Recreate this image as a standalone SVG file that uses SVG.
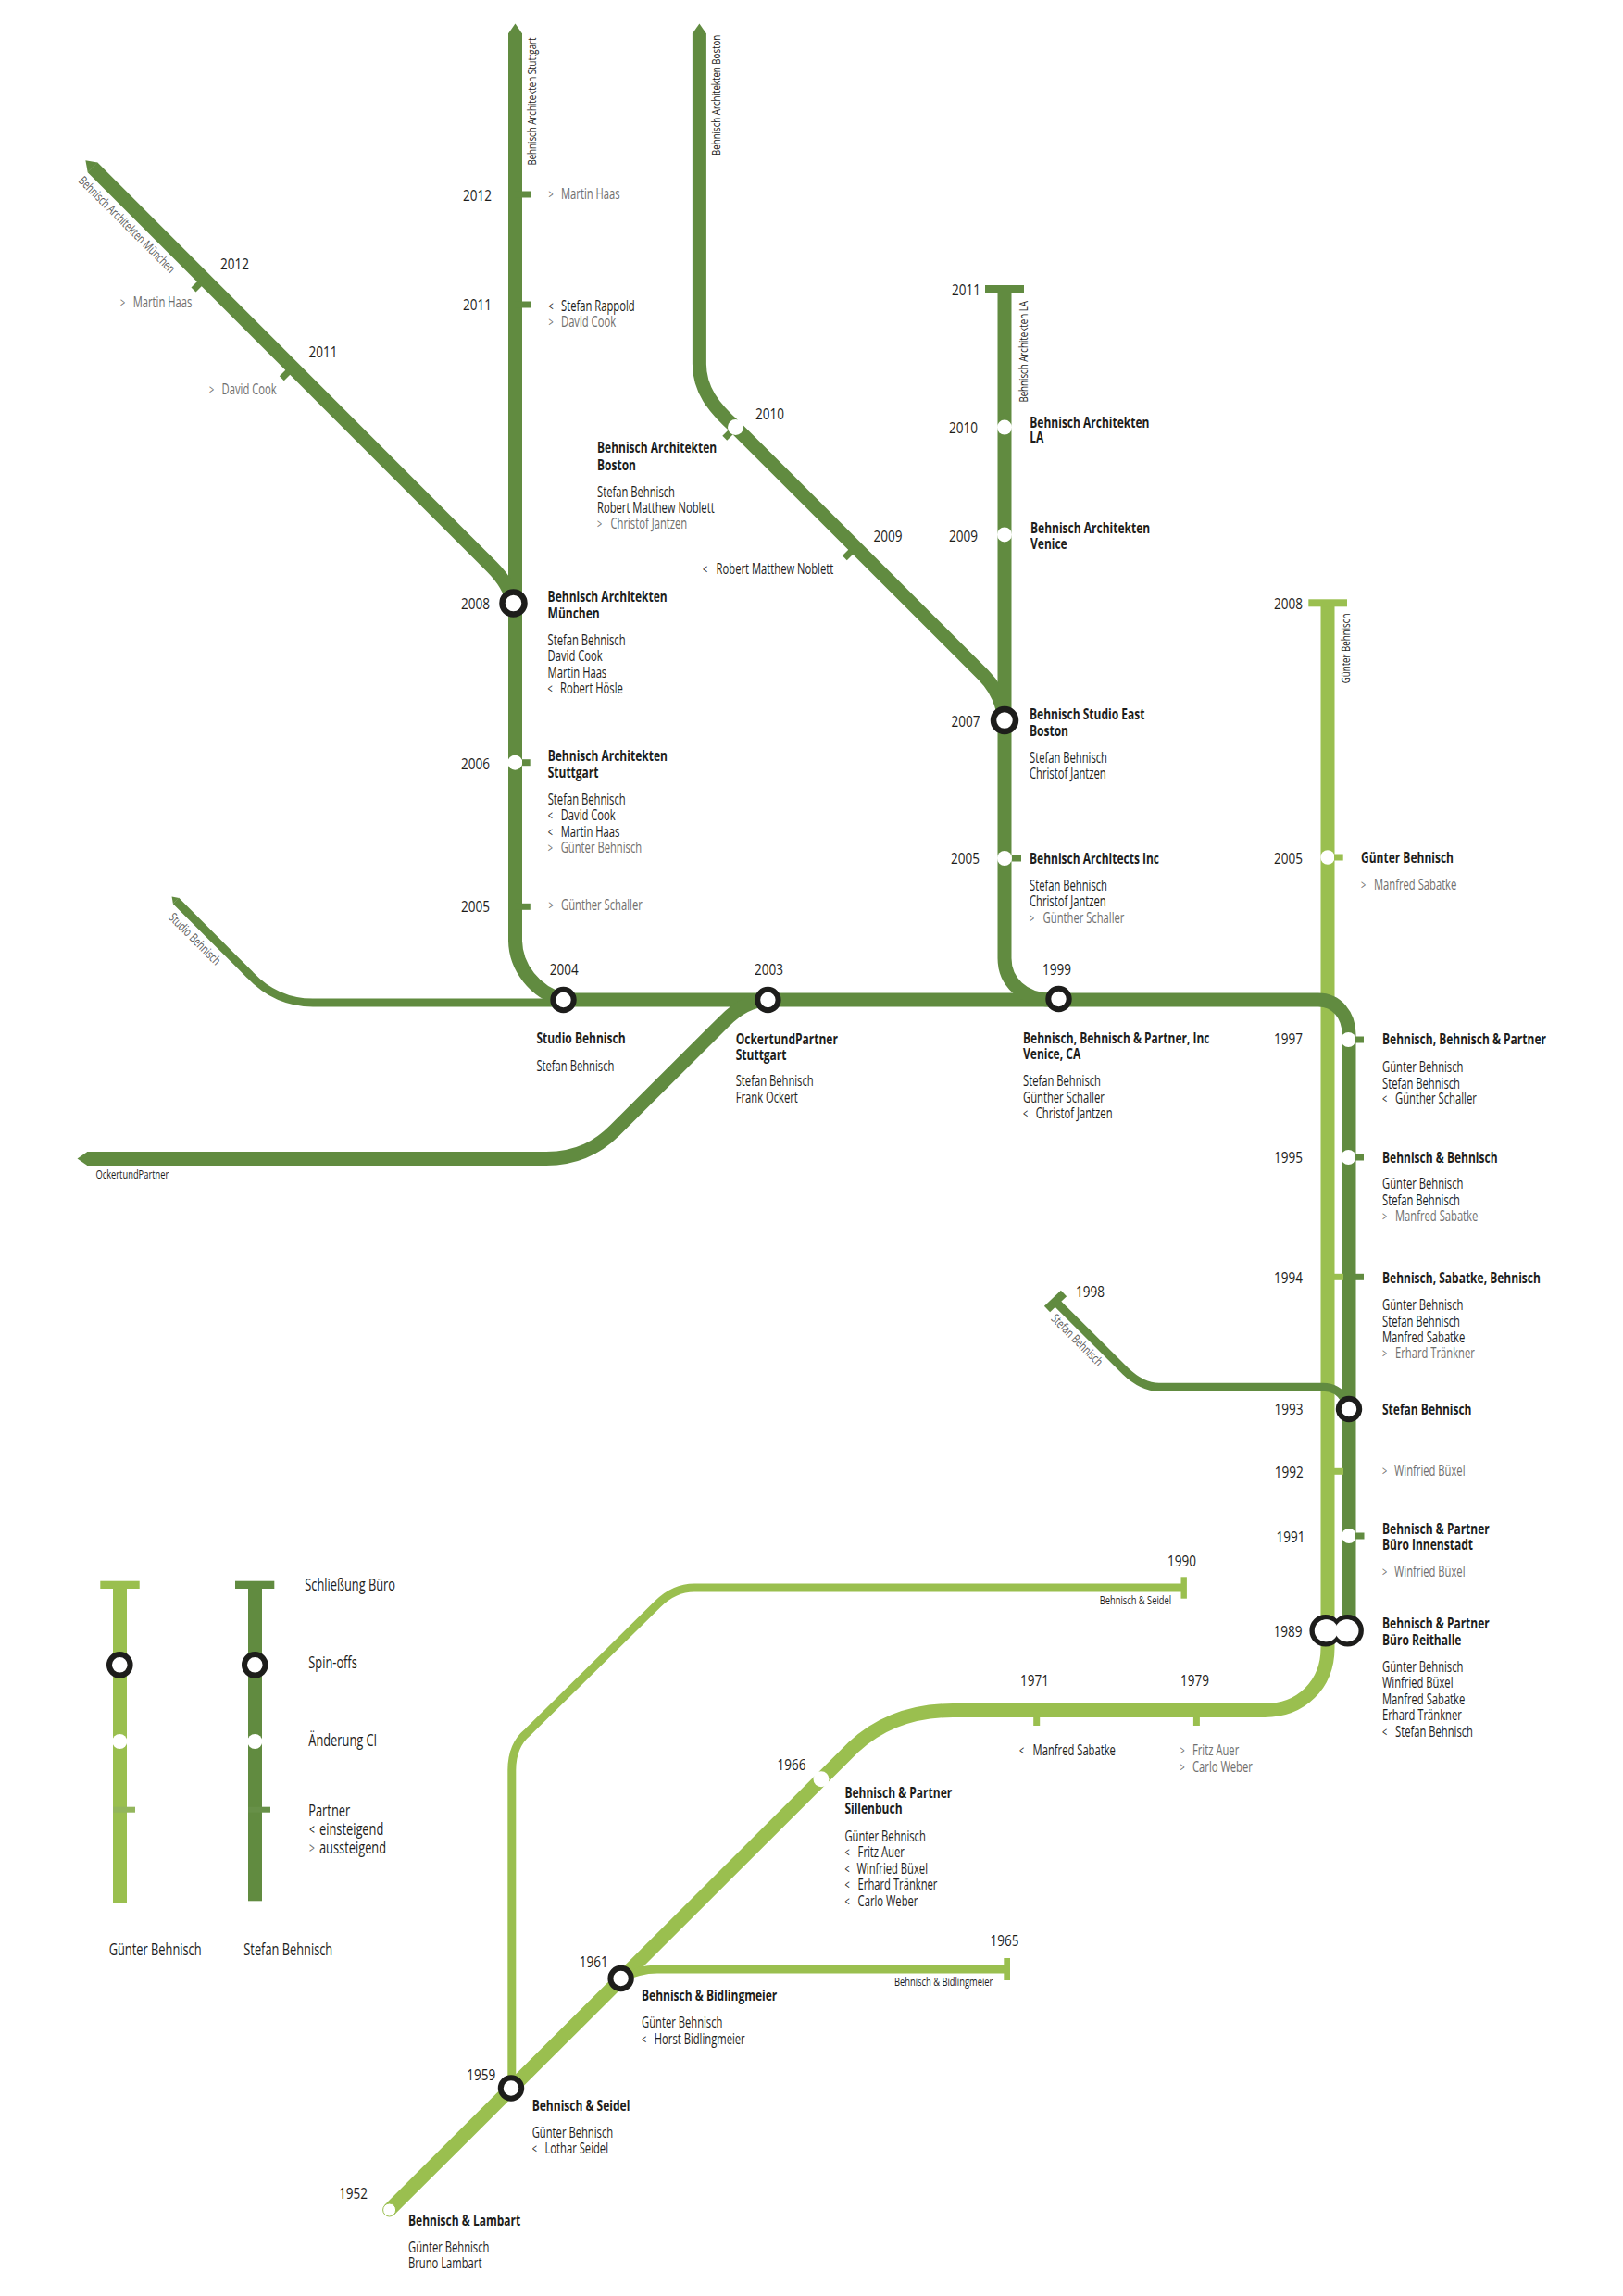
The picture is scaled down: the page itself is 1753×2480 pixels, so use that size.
<svg xmlns="http://www.w3.org/2000/svg" width="1753" height="2480" viewBox="0 0 1753 2480">
<style>
text{font-family:"Open Sans","Noto Sans","DejaVu Sans",sans-serif;font-size:15.5px;fill:#1d1d1b;transform-box:fill-box;transform-origin:0 0;transform:scaleX(.725)}
.t{font-weight:700;transform:scaleX(.775)}
.g{fill:#6f6f6e}
.y{font-size:16.5px;transform:scaleX(.82)}
.s{font-size:13.4px}
.sg{font-size:13.4px;fill:#5a5a5a}
.sh{font-size:12.9px}
.l{font-size:17.7px}
.c{font-size:15px;transform:scaleX(.6)}
.cg{font-size:15px;fill:#6f6f6e;transform:scaleX(.6)}
.cl{font-size:17px;transform:scaleX(.6)}
.d,.lg,.th,.thl,.tk,.tkl{fill:none}
.d{stroke:#618b40;stroke-width:15}
.lg{stroke:#9abf4f;stroke-width:15}
.th{stroke:#618b40;stroke-width:9}
.thl{stroke:#9abf4f;stroke-width:9}
.tk{stroke:#618b40;stroke-width:7}
.tkl{stroke:#9abf4f;stroke-width:7}
.st{fill:#fff;stroke:#1d1d1b;stroke-width:6}
.dot{fill:#fff}
</style>
<defs>
<marker id="tip" viewBox="0 -1 1 2" refX="0.02" refY="0" markerWidth="1" markerHeight="2" orient="auto-start-reverse"><path d="M0,-.5 L.72,0 L0,.5Z" fill="#618b40"/></marker>
</defs>
<g id="connectors">
<path class="lg" d="M1434,651 V1780 C1434,1820 1405,1847.5 1366,1847.5 H1029 C985,1847.5 950,1861 922,1887 L420.6,2387"/>
<path class="thl" d="M670,2137 C680,2132 692,2127 710,2127 H1088"/>
<path class="thl" d="M552.8,2255 V1912 C552.8,1893 559,1880 570,1871 L710,1733 C722,1721 735,1715 750,1715 H1278"/>
<path class="d" d="M608,1080 H1424 C1444,1080 1457,1097 1457,1117 V1750"/>
<path class="d" d="M556.5,36 V1015 C556.5,1045 578,1072 608,1080" marker-start="url(#tip)"/>
<path class="d" d="M755.4,36 V393 C755.4,420 770,440 794.5,461.6 L1062,729 C1075,742 1083,758 1085,778" marker-start="url(#tip)"/>
<path class="d" d="M1085,312 V1035 C1085,1060 1105,1080 1135,1080"/>
<path class="d" d="M99.8,180.6 L531,612 C545,626 552,638 554,652" marker-start="url(#tip)"/>
<path class="d" d="M94,1251.5 H590 C625,1251.5 647,1238 664,1221 L782,1103.5 C797,1088 812,1080 830,1080" marker-start="url(#tip)"/>
<path class="th" d="M190,973 L270,1053 C288,1072 310,1083 338,1083 H600" marker-start="url(#tip)"/>
<path class="th" d="M1140,1405.7 L1215.6,1481 C1226,1491 1238,1498.3 1252,1498.3 H1429 C1440,1498.3 1448,1504 1453,1512"/>
</g>
<g id="closures">
<path class="th" d="M1131,1414 L1149,1397"/>
<rect x="1064" y="308" width="42" height="8.5" fill="#618b40"/>
<rect x="1413.3" y="647.3" width="41.7" height="8" fill="#9abf4f"/>
<rect x="1275.5" y="1703.3" width="6.4" height="23.4" fill="#9abf4f"/>
<rect x="1084.3" y="2115" width="6.7" height="24" fill="#9abf4f"/>
</g>
<g id="line-labels">
<g transform="translate(579,178.6) rotate(-90)"><text class="s">Behnisch Architekten Stuttgart</text></g>
<g transform="translate(778,168) rotate(-90)"><text class="s">Behnisch Architekten Boston</text></g>
<g transform="translate(1110,434.6) rotate(-90)"><text class="s">Behnisch Architekten LA</text></g>
<g transform="translate(1458,738.3) rotate(-90)"><text class="s">Günter Behnisch</text></g>
<g transform="translate(84,196) rotate(45)"><text class="sg">Behnisch Architekten München</text></g>
<g transform="translate(181.4,991.7) rotate(45)"><text class="sg">Studio Behnisch</text></g>
<g transform="translate(1134.4,1425) rotate(45)"><text class="sg">Stefan Behnisch</text></g>
<text class="sh" x="103.4" y="1272.7">OckertundPartner</text>
<text class="sh" x="1187.7" y="1733.3">Behnisch &amp; Seidel</text>
<text class="sh" x="966" y="2145">Behnisch &amp; Bidlingmeier</text>
</g>
<g id="s-2012-muc"><path class="tk" d="M220.7,301.2 L209,313"/><text class="y" x="238" y="291">2012</text><text class="cg" x="130" y="331.6">&gt;</text><text class="g" x="143.7" y="331.6">Martin Haas</text></g>
<g id="s-2011-muc"><path class="tk" d="M316,397 L304.3,408.7"/><text class="y" x="333.5" y="386">2011</text><text class="cg" x="226" y="426.5">&gt;</text><text class="g" x="239.6" y="426.5">David Cook</text></g>
<g id="s-2012-stg"><path class="tk" d="M556,210 H573"/><text class="y" x="500" y="217">2012</text><text class="cg" x="592.6" y="215">&gt;</text><text class="g" x="606" y="215">Martin Haas</text></g>
<g id="s-2011-stg"><path class="tk" d="M556,329 H573"/><text class="y" x="500" y="335">2011</text><text class="c" x="592.6" y="335.7">&lt;</text><text x="606" y="335.7">Stefan Rappold</text><text class="cg" x="592.6" y="352.6">&gt;</text><text class="g" x="606" y="352.6">David Cook</text></g>
<g id="s-2008-muc"><circle class="st" cx="554.5" cy="651.5" r="12" style="stroke-width:6.5"/><text class="y" x="498" y="658">2008</text><text class="t" x="591.6" y="650.5">Behnisch Architekten</text><text class="t" x="591.6" y="668.4">München</text><text x="591.6" y="697.4">Stefan Behnisch</text><text x="591.6" y="714">David Cook</text><text x="591.6" y="732">Martin Haas</text><text class="c" x="591.6" y="749">&lt;</text><text x="605" y="749">Robert Hösle</text></g>
<g id="s-2006"><circle class="dot" cx="556.3" cy="823.7" r="8"/><path class="tk" d="M564,823.7 H572.7"/><text class="y" x="498" y="831">2006</text><text class="t" x="591.7" y="821.7">Behnisch Architekten</text><text class="t" x="591.7" y="840">Stuttgart</text><text x="591.7" y="869">Stefan Behnisch</text><text class="c" x="591.7" y="886">&lt;</text><text x="605.7" y="886">David Cook</text><text class="c" x="591.7" y="904">&lt;</text><text x="605.7" y="904">Martin Haas</text><text class="cg" x="591.7" y="921">&gt;</text><text class="g" x="605.7" y="921">Günter Behnisch</text></g>
<g id="s-2005-stg"><path class="tk" d="M556,979.3 H572.8"/><text class="y" x="498" y="985">2005</text><text class="cg" x="592.6" y="983">&gt;</text><text class="g" x="606" y="983">Günther Schaller</text></g>
<g id="s-2010-bos"><path class="tk" d="M794.5,461.6 L782.8,473.3"/><circle class="dot" cx="794.5" cy="461.6" r="8.5"/><text class="y" x="816" y="453">2010</text><text class="t" x="645" y="489.3">Behnisch Architekten</text><text class="t" x="645" y="507.6">Boston</text><text x="645" y="536.7">Stefan Behnisch</text><text x="645" y="553.6">Robert Matthew Noblett</text><text class="cg" x="645" y="571.4">&gt;</text><text class="g" x="659.5" y="571.4">Christof Jantzen</text></g>
<g id="s-2009-bos"><path class="tk" d="M924,591 L912.3,602.7"/><text class="y" x="943.5" y="585">2009</text><text class="c" x="759" y="620.3">&lt;</text><text x="773.6" y="620.3">Robert Matthew Noblett</text></g>
<g id="s-2011-la"><text class="y" x="1028" y="319">2011</text></g>
<g id="s-2010-la"><circle class="dot" cx="1085" cy="461.6" r="8"/><text class="y" x="1025" y="467.8">2010</text><text class="t" x="1112.3" y="461.6">Behnisch Architekten</text><text class="t" x="1112.3" y="478">LA</text></g>
<g id="s-2009-la"><circle class="dot" cx="1085" cy="577.4" r="8"/><text class="y" x="1025" y="584.6">2009</text><text class="t" x="1113" y="576.4">Behnisch Architekten</text><text class="t" x="1113" y="592.8">Venice</text></g>
<g id="s-2007"><circle class="st" cx="1085" cy="778" r="12" style="stroke-width:6.5"/><text class="y" x="1027.6" y="784.6">2007</text><text class="t" x="1112" y="777.4">Behnisch Studio East</text><text class="t" x="1112" y="795.3">Boston</text><text x="1112" y="824.4">Stefan Behnisch</text><text x="1112" y="841">Christof Jantzen</text></g>
<g id="s-2005-la"><circle class="dot" cx="1085" cy="927" r="8"/><path class="tk" d="M1093,927 H1103"/><text class="y" x="1027" y="933">2005</text><text class="t" x="1112" y="933">Behnisch Architects Inc</text><text x="1112" y="962">Stefan Behnisch</text><text x="1112" y="979">Christof Jantzen</text><text class="cg" x="1112" y="997">&gt;</text><text class="g" x="1126.6" y="997">Günther Schaller</text></g>
<g id="s-2004"><circle class="st" cx="608.5" cy="1080" r="11.2"/><text class="y" x="593.7" y="1052.7">2004</text><text class="t" x="579.4" y="1126.7">Studio Behnisch</text><text x="579.4" y="1156.7">Stefan Behnisch</text></g>
<g id="s-2003"><circle class="st" cx="829.4" cy="1080" r="11.2"/><text class="y" x="815" y="1052.7">2003</text><text class="t" x="794.7" y="1127.7">OckertundPartner</text><text class="t" x="794.7" y="1145">Stuttgart</text><text x="794.7" y="1173.3">Stefan Behnisch</text><text x="794.7" y="1191.3">Frank Ockert</text></g>
<g id="s-1999"><circle class="st" cx="1143.5" cy="1079" r="11.2"/><text class="y" x="1126" y="1052.7">1999</text><text class="t" x="1105" y="1127.3">Behnisch, Behnisch &amp; Partner, Inc</text><text class="t" x="1105" y="1144.3">Venice, CA</text><text x="1105" y="1173.3">Stefan Behnisch</text><text x="1105" y="1191.3">Günther Schaller</text><text class="c" x="1105" y="1208.3">&lt;</text><text x="1118.8" y="1208.3">Christof Jantzen</text></g>
<g id="s-2008-g"><text class="y" x="1376" y="657.7">2008</text></g>
<g id="s-2005-g"><circle class="dot" cx="1434" cy="926" r="7.7"/><path class="tkl" d="M1441,926 H1450.7"/><text class="y" x="1376" y="932.7">2005</text><text class="t" x="1470" y="932.3">Günter Behnisch</text><text class="cg" x="1470" y="961">&gt;</text><text class="g" x="1484" y="961">Manfred Sabatke</text></g>
<g id="s-1997"><circle class="dot" cx="1456.4" cy="1123" r="8"/><path class="tk" d="M1464,1123 H1473"/><text class="y" x="1376" y="1128.3">1997</text><text class="t" x="1493" y="1128.3">Behnisch, Behnisch &amp; Partner</text><text x="1493" y="1157.7">Günter Behnisch</text><text x="1493" y="1175.7">Stefan Behnisch</text><text class="c" x="1493" y="1192.3">&lt;</text><text x="1507" y="1192.3">Günther Schaller</text></g>
<g id="s-1995"><circle class="dot" cx="1456.4" cy="1250" r="8"/><path class="tk" d="M1464,1250 H1473"/><text class="y" x="1376" y="1255.7">1995</text><text class="t" x="1493" y="1255.7">Behnisch &amp; Behnisch</text><text x="1493" y="1284.3">Günter Behnisch</text><text x="1493" y="1301.7">Stefan Behnisch</text><text class="cg" x="1493" y="1319.3">&gt;</text><text class="g" x="1507" y="1319.3">Manfred Sabatke</text></g>
<g id="s-1994"><path class="tkl" d="M1440,1379.3 H1451"/><path class="tk" d="M1464,1379.3 H1473"/><text class="y" x="1376" y="1385.7">1994</text><text class="t" x="1493" y="1385.7">Behnisch, Sabatke, Behnisch</text><text x="1493" y="1414.7">Günter Behnisch</text><text x="1493" y="1432.7">Stefan Behnisch</text><text x="1493" y="1449.7">Manfred Sabatke</text><text class="cg" x="1493" y="1467.3">&gt;</text><text class="g" x="1507" y="1467.3">Erhard Tränkner</text></g>
<g id="s-1998"><text class="y" x="1162" y="1400.7">1998</text></g>
<g id="s-1993"><circle class="st" cx="1457" cy="1522" r="11.2"/><text class="y" x="1376.5" y="1528.5">1993</text><text class="t" x="1493" y="1527.7">Stefan Behnisch</text></g>
<g id="s-1992"><path class="tkl" d="M1440,1589.3 H1451"/><text class="y" x="1376.7" y="1595.7">1992</text><text class="cg" x="1493" y="1594">&gt;</text><text class="g" x="1506" y="1594">Winfried Büxel</text></g>
<g id="s-1991"><circle class="dot" cx="1457" cy="1659" r="8"/><path class="tk" d="M1464,1659 H1473.5"/><text class="y" x="1378.6" y="1665.7">1991</text><text class="t" x="1493" y="1656.7">Behnisch &amp; Partner</text><text class="t" x="1493" y="1674">Büro Innenstadt</text><text class="cg" x="1493" y="1702.7">&gt;</text><text class="g" x="1506" y="1702.7">Winfried Büxel</text></g>
<g id="s-1990"><text class="y" x="1261" y="1691.7">1990</text></g>
<g id="s-1989"><circle class="st" cx="1431.7" cy="1761.3" r="14.6" style="stroke-width:5.4"/><circle class="st" cx="1455.6" cy="1761.3" r="14.6" style="stroke-width:5.4"/><circle class="dot" cx="1433" cy="1761.3" r="12"/><circle class="dot" cx="1454.3" cy="1761.3" r="12"/><text class="y" x="1375.5" y="1768.3">1989</text><text class="t" x="1493" y="1759">Behnisch &amp; Partner</text><text class="t" x="1493" y="1776.7">Büro Reithalle</text><text x="1493" y="1805.7">Günter Behnisch</text><text x="1493" y="1822.7">Winfried Büxel</text><text x="1493" y="1840.7">Manfred Sabatke</text><text x="1493" y="1857.7">Erhard Tränkner</text><text class="c" x="1493" y="1875.7">&lt;</text><text x="1507" y="1875.7">Stefan Behnisch</text></g>
<g id="s-1979"><path class="tkl" d="M1292.4,1848 V1864"/><text class="y" x="1275" y="1821">1979</text><text class="cg" x="1274.5" y="1896">&gt;</text><text class="g" x="1288" y="1896">Fritz Auer</text><text class="cg" x="1274.5" y="1914">&gt;</text><text class="g" x="1288" y="1914">Carlo Weber</text></g>
<g id="s-1971"><path class="tkl" d="M1119.7,1848 V1864"/><text class="y" x="1102" y="1821">1971</text><text class="c" x="1101" y="1896">&lt;</text><text x="1115.6" y="1896">Manfred Sabatke</text></g>
<g id="s-1966"><circle class="dot" cx="887" cy="1921.8" r="8.5"/><text class="y" x="839.5" y="1912">1966</text><text class="t" x="912.4" y="1941.7">Behnisch &amp; Partner</text><text class="t" x="912.4" y="1959">Sillenbuch</text><text x="912.4" y="1989">Günter Behnisch</text><text class="c" x="912.4" y="2006">&lt;</text><text x="926.6" y="2006">Fritz Auer</text><text class="c" x="912.4" y="2024">&lt;</text><text x="925.5" y="2024">Winfried Büxel</text><text class="c" x="912.4" y="2041">&lt;</text><text x="926.6" y="2041">Erhard Tränkner</text><text class="c" x="912.4" y="2059">&lt;</text><text x="926.6" y="2059">Carlo Weber</text></g>
<g id="s-1965"><text class="y" x="1069.6" y="2102">1965</text></g>
<g id="s-1961"><circle class="st" cx="670.6" cy="2137" r="11.2"/><text class="y" x="625.7" y="2125.4">1961</text><text class="t" x="693" y="2161">Behnisch &amp; Bidlingmeier</text><text x="693" y="2190">Günter Behnisch</text><text class="c" x="693" y="2208">&lt;</text><text x="706.8" y="2208">Horst Bidlingmeier</text></g>
<g id="s-1959"><circle class="st" cx="552" cy="2255.5" r="11.2"/><text class="y" x="504.3" y="2247">1959</text><text class="t" x="574.7" y="2280">Behnisch &amp; Seidel</text><text x="574.7" y="2309">Günter Behnisch</text><text class="c" x="574.7" y="2326.4">&lt;</text><text x="588.5" y="2326.4">Lothar Seidel</text></g>
<g id="s-1952"><circle cx="420.6" cy="2387" r="7" fill="#fff" stroke="#9abf4f" stroke-width="1"/><text class="y" x="366" y="2375">1952</text><text class="t" x="441" y="2404">Behnisch &amp; Lambart</text><text x="441" y="2433">Günter Behnisch</text><text x="441" y="2450">Bruno Lambart</text></g>
<g id="legend-guenter"><rect x="122" y="1710" width="15" height="345" fill="#9abf4f"/><rect x="108.3" y="1707.7" width="42.4" height="8.3" fill="#9abf4f"/><circle class="st" cx="129.3" cy="1798.3" r="11.3"/><circle class="dot" cx="129.3" cy="1881" r="8"/><rect x="122" y="1951.7" width="24" height="6" fill="#93b65c"/><text class="l" x="117.7" y="2111.7">Günter Behnisch</text></g>
<g id="legend-stefan"><rect x="268" y="1710" width="15" height="343.3" fill="#618b40"/><rect x="254" y="1707.7" width="42.3" height="8.3" fill="#618b40"/><circle class="st" cx="275.3" cy="1798.3" r="11.3"/><circle class="dot" cx="275.3" cy="1881" r="8"/><rect x="268" y="1951.7" width="24" height="6" fill="#679048"/><text class="l" x="263.3" y="2111.7">Stefan Behnisch</text></g>
<g id="legend-labels"><text class="l" x="329.3" y="1718.3">Schließung Büro</text><text class="l" x="333.3" y="1801.7">Spin-offs</text><text class="l" x="333.3" y="1885.7">Änderung CI</text><text class="l" x="333.3" y="1961.7">Partner</text><text class="cl" x="334" y="1981.7">&lt;</text><text class="l" x="345" y="1981.7">einsteigend</text><text class="cl" x="334" y="2001.7" style="fill:#6f6f6e">&gt;</text><text class="l" x="345" y="2001.7">aussteigend</text></g>
</svg>
